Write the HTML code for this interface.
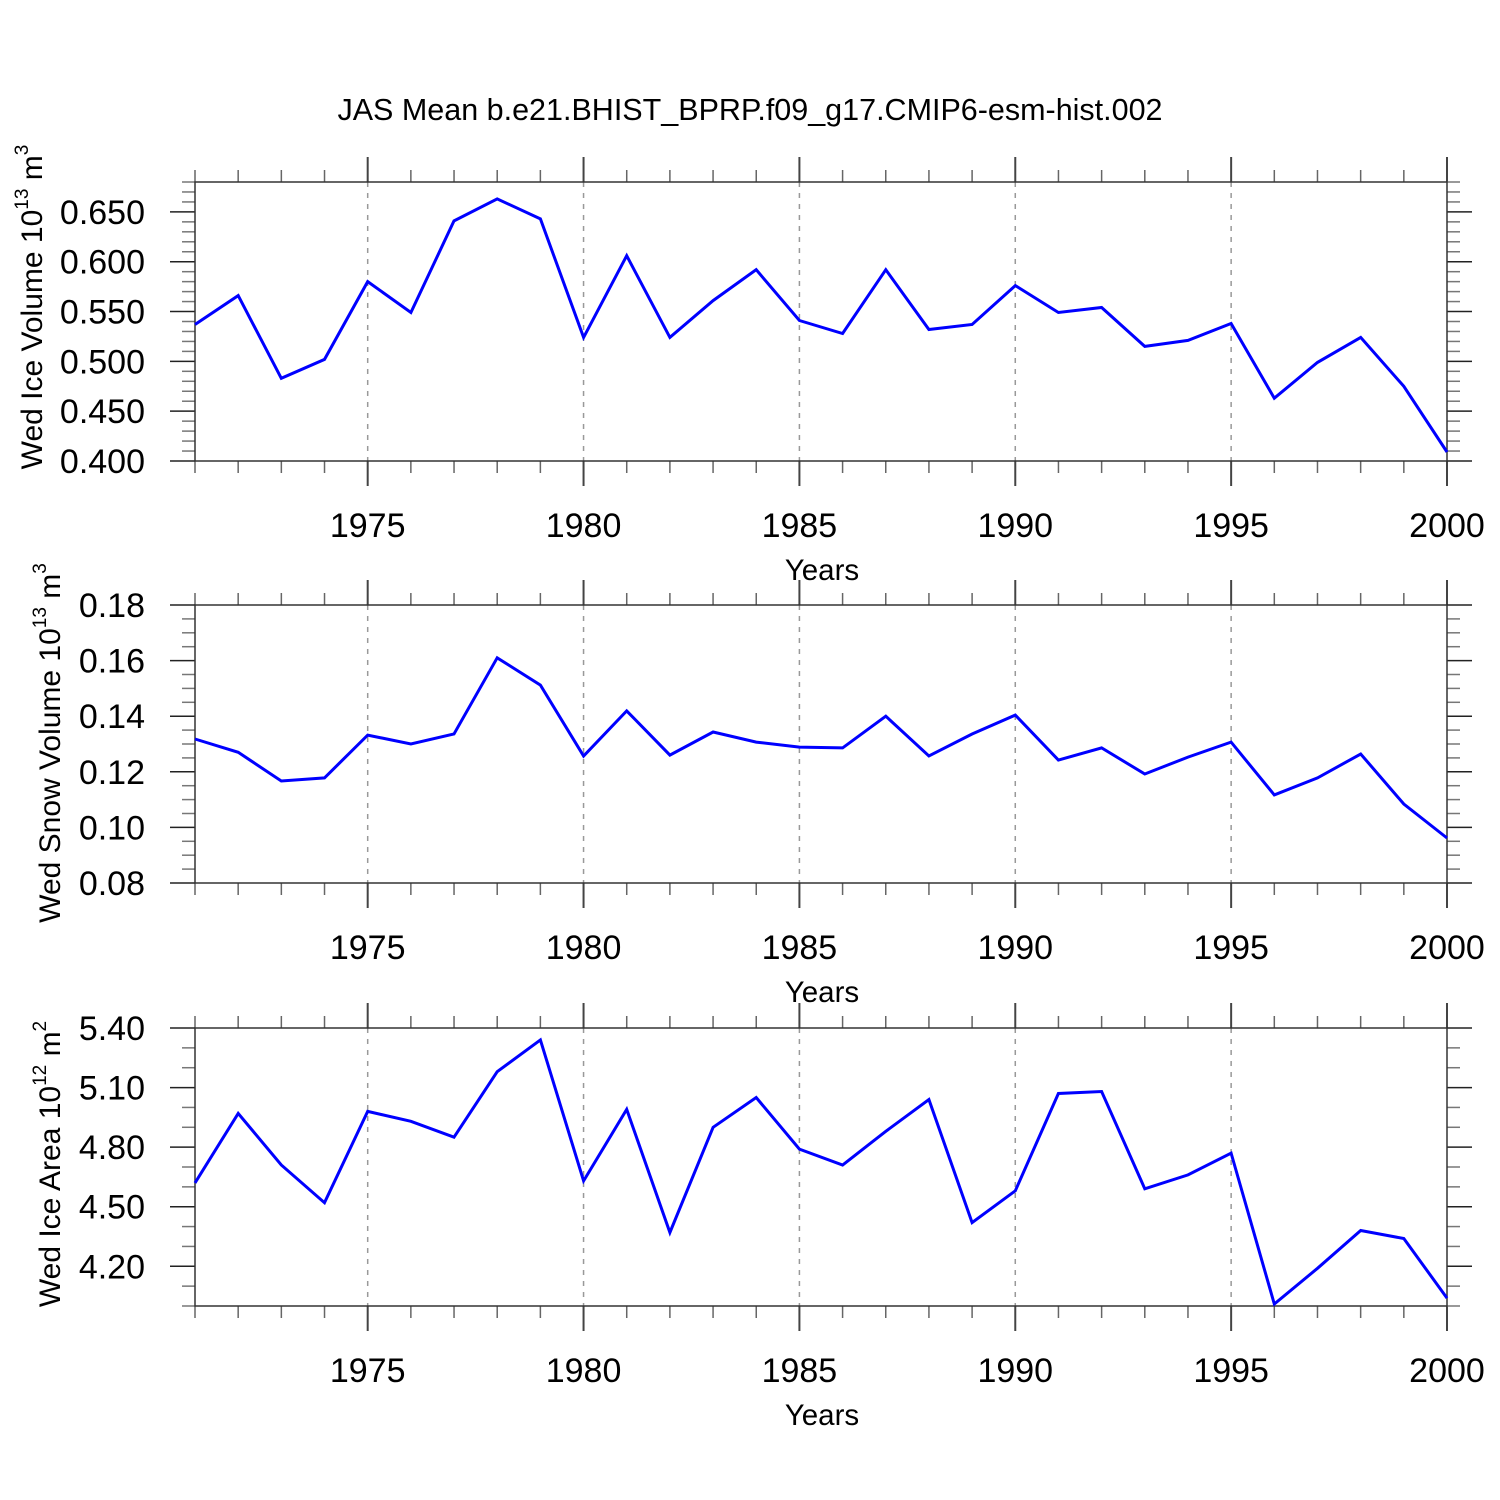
<!DOCTYPE html>
<html><head><meta charset="utf-8">
<style>
html,body{margin:0;padding:0;background:#fff;}
svg{display:block;font-family:"Liberation Sans",Arial,sans-serif;}
</style></head>
<body>
<svg id="chart" width="1500" height="1500" viewBox="0 0 1500 1500" xmlns="http://www.w3.org/2000/svg">
<rect width="1500" height="1500" fill="#fff"/>
<text x="750" y="120" font-size="30.5" text-anchor="middle">JAS Mean b.e21.BHIST_BPRP.f09_g17.CMIP6-esm-hist.002</text>
</svg>
<script>
const years = [1971,1972,1973,1974,1975,1976,1977,1978,1979,1980,1981,1982,1983,1984,1985,1986,1987,1988,1989,1990,1991,1992,1993,1994,1995,1996,1997,1998,1999,2000];
const iceVolume = [0.537,0.566,0.483,0.502,0.580,0.549,0.641,0.663,0.643,0.524,0.606,0.524,0.561,0.592,0.541,0.528,0.592,0.532,0.537,0.576,0.549,0.554,0.515,0.521,0.538,0.463,0.499,0.524,0.475,0.409];
const snowVolume = [0.1318,0.127,0.1167,0.1178,0.1332,0.130,0.1336,0.161,0.1512,0.1257,0.1419,0.126,0.1343,0.1307,0.1289,0.1286,0.140,0.1257,0.1336,0.1404,0.1242,0.1286,0.1192,0.1253,0.1307,0.1117,0.1178,0.1264,0.1084,0.0962];
const iceArea = [4.62,4.97,4.71,4.52,4.98,4.93,4.85,5.18,5.34,4.63,4.99,4.37,4.90,5.05,4.79,4.71,4.88,5.04,4.42,4.58,5.07,5.08,4.59,4.66,4.77,4.01,4.19,4.38,4.34,4.04];
const xTicks = [1975,1980,1985,1990,1995,2000];
const iceVolTicks = [0.40,0.45,0.50,0.55,0.60,0.65];
const snowTicks = [0.08,0.10,0.12,0.14,0.16,0.18];
const areaTicks = [4.20,4.50,4.80,5.10,5.40];

const NS='http://www.w3.org/2000/svg';
const svg=document.getElementById('chart');
function mk(tag,attrs,parent){const e=document.createElementNS(NS,tag);for(const k in attrs)e.setAttribute(k,attrs[k]);(parent||svg).appendChild(e);return e;}

const X0=195,X1=1447,XMIN=1971,XMAX=2000;
function xs(v){return X0+(v-XMIN)*(X1-X0)/(XMAX-XMIN);}

const panels=[
 {name:'ice-volume',top:182,bot:461,min:0.40,max:0.68,data:iceVolume,ticks:iceVolTicks,dec:3,minor:0.01,title:'Wed Ice Volume 10',exp:'13',unit:' m',uexp:'3',tx:42,cy:307},
 {name:'snow-volume',top:605,bot:883,min:0.08,max:0.18,data:snowVolume,ticks:snowTicks,dec:2,minor:0.005,title:'Wed Snow Volume 10',exp:'13',unit:' m',uexp:'3',tx:60,cy:743},
 {name:'ice-area',top:1028,bot:1306,min:4.0,max:5.4,data:iceArea,ticks:areaTicks,dec:2,minor:0.1,title:'Wed Ice Area 10',exp:'12',unit:' m',uexp:'2',tx:60,cy:1164}
];

panels.forEach(p=>{
 const g=mk('g',{});
 
 
 const ys=v=>p.bot-(v-p.min)*(p.bot-p.top)/(p.max-p.min);
 xTicks.forEach(t=>{ if(t<XMAX){const l=mk('line',{x1:xs(t),x2:xs(t),y1:p.top,y2:p.bot,stroke:'#999','stroke-width':1.5,'stroke-dasharray':'5,6'},g);
  
  }});
 years.forEach(t=>{const maj=xTicks.includes(t);const len=maj?25:12;const x=xs(t);
  mk('line',{x1:x,x2:x,y1:p.top-len,y2:p.top,stroke:maj?'#444':'#666','stroke-width':maj?2:1.5},g);
  mk('line',{x1:x,x2:x,y1:p.bot,y2:p.bot+len,stroke:maj?'#444':'#666','stroke-width':maj?2:1.5},g);});
 const n=Math.round((p.max-p.min)/p.minor);
 for(let i=0;i<=n;i++){const v=p.min+i*p.minor;const maj=p.ticks.some(t=>Math.abs(t-v)<1e-6);const len=maj?25:13;const y=ys(v);
  mk('line',{x1:X0-len,x2:X0,y1:y,y2:y,stroke:maj?'#222':'#777','stroke-width':1.5},g);
  mk('line',{x1:X1,x2:X1+len,y1:y,y2:y,stroke:maj?'#222':'#777','stroke-width':1.5},g);}
 const box=mk('rect',{x:X0,y:p.top,width:X1-X0,height:p.bot-p.top,fill:'none',stroke:'#333','stroke-width':1.5},g);
 
 
 p.ticks.forEach(t=>{const tx=mk('text',{x:145,y:ys(t)+12,'font-size':34,'text-anchor':'end'},g);tx.textContent=t.toFixed(p.dec);
  
  });
 xTicks.forEach(t=>{const tx=mk('text',{x:xs(t),y:p.bot+76,'font-size':34,'text-anchor':'middle'},g);tx.textContent=t;
  
  });
 const xt=mk('text',{x:822,y:p.bot+119,'font-size':29.5,'text-anchor':'middle'},g);xt.textContent='Years';
 
 
 const yt=mk('text',{x:0,y:0,'font-size':30,'text-anchor':'middle',transform:`translate(${p.tx},${p.cy}) rotate(-90)`},g);
 
 
 const s1=mk('tspan',{},yt);s1.textContent=p.title;
 const s2=mk('tspan',{dy:-14,'font-size':19},yt);s2.textContent=p.exp;
 const s3=mk('tspan',{dy:14},yt);s3.textContent=p.unit;
 const s4=mk('tspan',{dy:-14,'font-size':19},yt);s4.textContent=p.uexp;
 const pts=p.data.map((v,i)=>xs(years[i]).toFixed(1)+','+ys(v).toFixed(1)).join(' ');
 const pl=mk('polyline',{points:pts,fill:'none',stroke:'#0000ff','stroke-width':3,'stroke-linejoin':'miter'},g);
 
 
});
</script>
</body></html>
